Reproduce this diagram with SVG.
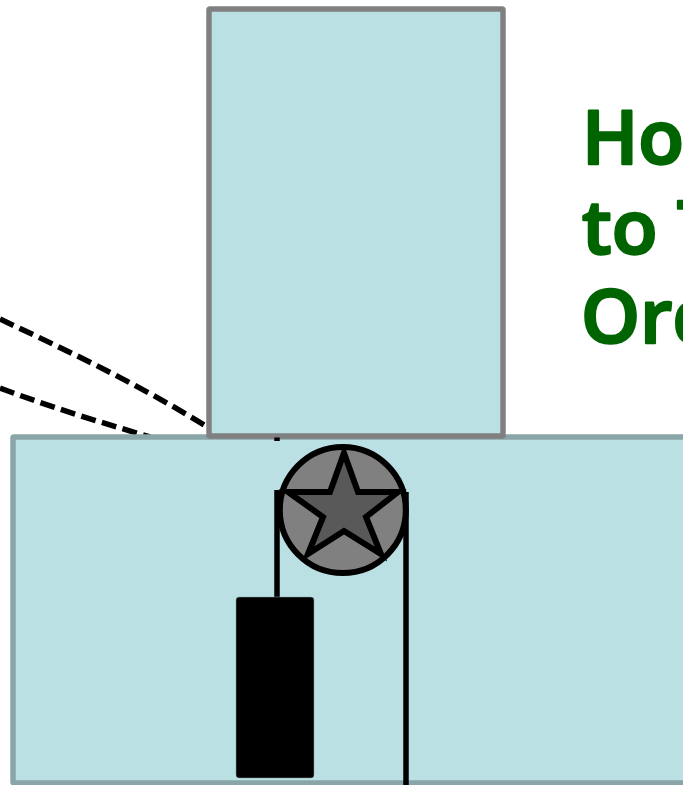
<svg xmlns="http://www.w3.org/2000/svg" width="683" height="785" viewBox="0 0 683 785">
<style>
.rope{fill:none;stroke:#000;stroke-width:5.500}
.dash{fill:none;stroke:#000;stroke-width:5.500;stroke-dasharray:15 6.500}
.title{font-family:"Open Sans","Noto Sans",sans-serif;font-size:75px;font-weight:600;fill:#006400;stroke:#006400;stroke-width:2.500;stroke-linejoin:round}
</style>
<g id="connectors">
<path class="dash" d="M0 319C70 352 140 385 209 428"/>
<path class="dash" d="M0 388C50 407 100 422 150 437"/>
</g>
<g id="lower-box"><rect x="13" y="437" width="680" height="346" rx="1" fill="#bbe0e3" stroke="#8aa5a8" stroke-width="5.500"/></g>
<g id="upper-box"><rect x="209" y="9" width="294" height="427" rx="1" fill="#bbe0e3" stroke="#808080" stroke-width="5.500"/></g>
<g id="pulley">
<circle cx="342.800" cy="510" r="63" fill="#808080" stroke="#000" stroke-width="6"/>
<path d="M344 453L358 492H398L366 517L381 554L344 531L308 554L323 517L288 492H330Z" fill="#595959" stroke="#000" stroke-width="6" stroke-linejoin="miter"/>
</g>
<g id="ropes">
<path class="rope" d="M277 490V600"/>
<path class="rope" d="M406 492V785"/>
<path class="rope" d="M277 437.500V441"/>
</g>
<g id="weight"><rect x="236" y="597" width="78" height="181" rx="3" fill="#000" stroke="#8aa5a8" stroke-width="0.500"/></g>
<g id="title">
<text class="title" x="582" y="164">Ho</text>
<text class="title" x="582" y="254">to T</text>
<text class="title" x="581" y="343">Ord</text>
</g>
</svg>
